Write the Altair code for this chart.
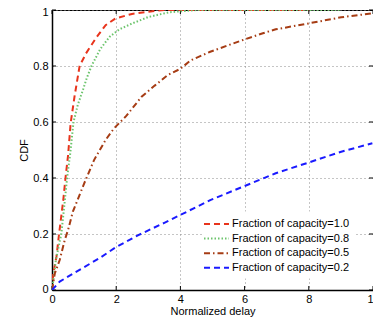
import altair as alt
import pandas as pd

labels = ["Fraction of capacity=1.0", "Fraction of capacity=0.8",
          "Fraction of capacity=0.5", "Fraction of capacity=0.2"]

x10 = [0, 0.04, 0.14, 0.22, 0.35, 0.42, 0.5, 0.58, 0.70, 0.86, 1.06, 1.37, 1.67, 1.98, 2.49, 3.0, 3.5, 8.0]
y10 = [0, 0.06, 0.12, 0.20, 0.32, 0.40, 0.48, 0.595, 0.69, 0.80, 0.845, 0.90, 0.946, 0.97, 0.986, 0.994, 1.0, 1.0]

x08 = [0, 0.06, 0.12, 0.29, 0.40, 0.47, 0.57, 0.67, 0.80, 0.98, 1.08, 1.23, 1.5, 1.8, 2.1, 2.5, 3.0, 3.66, 4.5, 9.0]
y08 = [0, 0.05, 0.107, 0.20, 0.32, 0.40, 0.49, 0.60, 0.66, 0.72, 0.756, 0.80, 0.86, 0.905, 0.931, 0.952, 0.975, 0.992, 1.0, 1.0]

x05 = [0, 0.09, 0.24, 0.40, 0.50, 0.65, 1.0, 1.31, 1.67, 1.93, 2.3, 2.79, 3.2, 3.61, 4.0, 4.32, 4.93, 5.95, 6.57, 6.97, 7.99, 9.01, 9.98]
y05 = [0, 0.06, 0.107, 0.18, 0.214, 0.28, 0.38, 0.464, 0.536, 0.577, 0.62, 0.69, 0.73, 0.768, 0.79, 0.82, 0.851, 0.893, 0.917, 0.931, 0.952, 0.974, 0.988]

x02 = [0, 0.24, 0.75, 1.47, 1.98, 2.69, 3.5, 4.0, 4.93, 5.95, 6.97, 7.99, 9.01, 9.98]
y02 = [0, 0.03, 0.065, 0.113, 0.152, 0.196, 0.24, 0.268, 0.321, 0.369, 0.417, 0.455, 0.494, 0.524]

x_ticks = [0, 2, 4, 6, 8, 10]
y_ticks = [0, 0.2, 0.4, 0.6, 0.8, 1]

colors = ["#e8341c", "#6cc46c", "#a63c14", "#1a1aff"]
dashes = [[6, 4], [1.5, 2], [6, 3, 1.5, 3], [6, 4]]

rows = []
for lab, xs, ys in zip(labels, [x10, x08, x05, x02], [y10, y08, y05, y02]):
    for i, (a, b) in enumerate(zip(xs, ys)):
        rows.append({"series": lab, "x": a, "y": b, "order": i})
df = pd.DataFrame(rows)

W, H = 321, 280
font = "Liberation Sans"
xscale = alt.Scale(domain=[0, 10], nice=False)
yscale = alt.Scale(domain=[0, 1], nice=False)

lines = alt.Chart(df).mark_line(strokeWidth=2, clip=True).encode(
    x=alt.X("x:Q", scale=xscale, title="Normalized delay",
            axis=alt.Axis(values=x_ticks, format="d", grid=True, gridDash=[1, 3],
                          gridColor="#8a8a8a", gridOpacity=1, tickSize=0,
                          labelFlush=False,
                          labelPadding=3, titlePadding=1, domainColor="black",
                          domainWidth=1.5)),
    y=alt.Y("y:Q", scale=yscale, title="CDF",
            axis=alt.Axis(values=y_ticks, format="~g", grid=True, gridDash=[1, 3],
                          gridColor="#8a8a8a", gridOpacity=1, tickSize=0,
                          labelFlush=True, labelFlushOffset=4,
                          labelPadding=4, titlePadding=3, domainColor="black",
                          domainWidth=1.5)),
    color=alt.Color("series:N", scale=alt.Scale(domain=labels, range=colors),
                    legend=alt.Legend(title=None, orient="none", legendX=152, legendY=201.5,
                                      symbolType="M-2,0H2", symbolSize=156,
                                      symbolStrokeWidth=2, labelFontSize=11,
                                      labelFont=font, labelColor="black",
                                      fillColor="white", padding=5, rowPadding=1.6,
                                      labelOffset=8, labelLimit=300)),
    strokeDash=alt.StrokeDash("series:N", scale=alt.Scale(domain=labels, range=dashes),
                              legend=None),
    order="order:Q",
)

tickdf_x = pd.DataFrame({"t": x_ticks})
tickdf_y = pd.DataFrame({"t": y_ticks})
xt_b = alt.Chart(tickdf_x).mark_rule(color="black", strokeWidth=1).encode(
    x=alt.X("t:Q", scale=xscale), y=alt.value(H), y2=alt.value(H - 4))
xt_t = alt.Chart(tickdf_x).mark_rule(color="black", strokeWidth=1).encode(
    x=alt.X("t:Q", scale=xscale), y=alt.value(0), y2=alt.value(4))
yt_l = alt.Chart(tickdf_y).mark_rule(color="black", strokeWidth=1).encode(
    y=alt.Y("t:Q", scale=yscale), x=alt.value(0), x2=alt.value(4))
yt_r = alt.Chart(tickdf_y).mark_rule(color="black", strokeWidth=1).encode(
    y=alt.Y("t:Q", scale=yscale), x=alt.value(W), x2=alt.value(W - 4))

chart = alt.layer(xt_b, xt_t, yt_l, yt_r, lines).properties(
    width=W, height=H,
    padding={"left": 44, "top": 2, "right": 0, "bottom": 28},
    autosize=alt.AutoSizeParams(type="none"),
    background="white",
).configure_view(stroke="black", strokeWidth=1).configure_axis(
    labelFont=font, titleFont=font, labelFontSize=11, titleFontSize=11,
    labelColor="black", titleColor="black", titleFontWeight="normal",
)

chart.save("out.html", embed_options={"renderer": "svg", "actions": False})
